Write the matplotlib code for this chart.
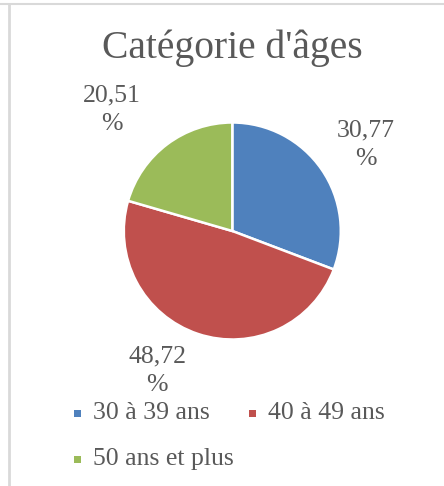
import matplotlib
matplotlib.use("Agg")
import matplotlib.pyplot as plt
from matplotlib.patches import Rectangle
from matplotlib.lines import Line2D

categories = ["30 à 39 ans", "40 à 49 ans", "50 ans et plus"]
values = [30.77, 48.72, 20.51]
labels = ["30,77\n%", "48,72\n%", "20,51\n%"]
colors = ["#4F81BD", "#C0504D", "#9BBB59"]
title = "Catégorie d'âges"

W, H = 444, 486
fig = plt.figure(figsize=(W / 100, H / 100), dpi=100)
fig.patch.set_facecolor("white")
font = ["Liberation Serif", "DejaVu Serif"]
txt = "#595959"

# frame lines
fig.add_artist(Line2D([0, 1], [1 - 4 / H, 1 - 4 / H], color="#d9d9d9", lw=1.5, transform=fig.transFigure))
fig.add_artist(Line2D([8.5 / W, 8.5 / W], [0, 1 - 4 / H], color="#d9d9d9", lw=2, transform=fig.transFigure))

cx, cy, r = 232.3, 231, 108.5
ax = fig.add_axes([(cx - r) / W, 1 - (cy + r) / H, 2 * r / W, 2 * r / H])
wedges, _ = ax.pie(values, colors=colors, startangle=90, counterclock=False,
                   wedgeprops=dict(edgecolor="white", linewidth=1.8))
ax.set_xlim(-1, 1)
ax.set_ylim(-1, 1)
ax.set_aspect("equal")

label_pos = [(366, 145), (157, 371), (112, 110)]
for (x, y), lab in zip(label_pos, labels):
    fig.text(x / W, 1 - y / H, lab, ha="center", va="center", fontsize=18.5,
             family=font, color=txt, linespacing=1.4)

fig.text(232 / W, 1 - 48 / H, title, ha="center", va="center", fontsize=28.5,
         family=font, color=txt)

leg_pos = [(77, 413), (252, 413), (77, 459)]
for (x, y), c, cat in zip(leg_pos, colors, categories):
    fig.add_artist(Rectangle(((x - 3.5) / W, 1 - (y + 3.5) / H), 7 / W, 7 / H,
                             facecolor=c, edgecolor="none", transform=fig.transFigure))
    fig.text((x + 16) / W, 1 - y / H, cat, ha="left", va="center", fontsize=18.5,
             family=font, color=txt)

fig.savefig("out.png", dpi=100, facecolor="white")
